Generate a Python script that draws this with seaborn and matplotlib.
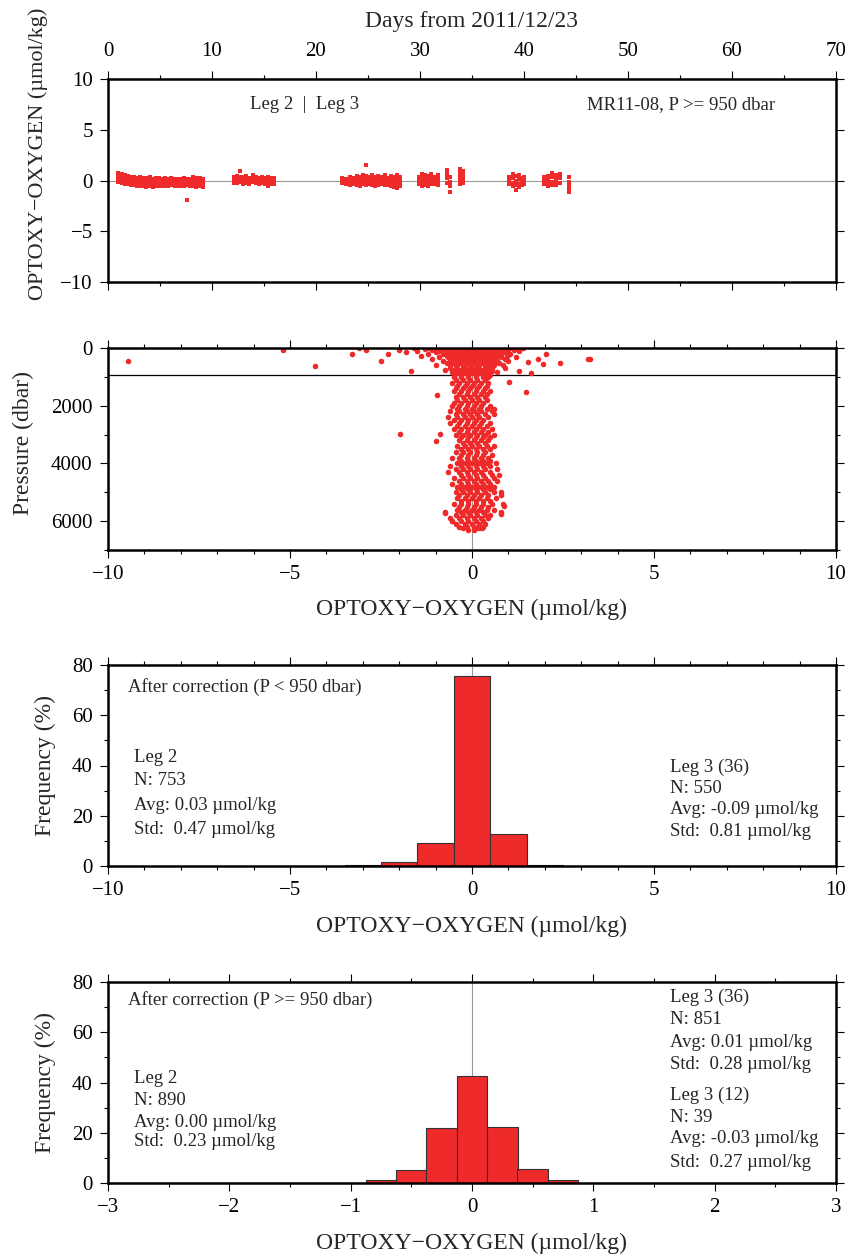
import numpy as np
import pandas as pd
import matplotlib
matplotlib.use("Agg")
import matplotlib.pyplot as plt
from matplotlib.ticker import MultipleLocator
import seaborn as sns

RED = "#ee2a2a"

# ---- panel 1: difference vs. days, P >= 950 dbar (one list of values per station)
stn_day = [1.0, 1.3, 1.6, 1.9, 2.2, 2.5, 2.8, 3.1, 3.4, 3.7, 4.0, 4.3, 4.6, 4.9,
           5.2, 5.5, 5.8, 6.1, 6.4, 6.7, 7.0, 7.3, 7.6, 7.9, 8.2, 8.5, 8.8, 9.1,
           12.1, 12.4, 12.7, 13.0, 13.3, 13.6, 13.9, 14.2, 14.5, 14.8, 15.1, 15.4, 15.7, 16.0,
           22.5, 22.9, 23.3, 23.6, 23.9, 24.2, 24.5, 24.8, 25.1, 25.4, 25.7, 26.0, 26.3,
           26.6, 26.9, 27.2, 27.5, 27.8, 28.1,
           29.9, 30.2, 30.5, 30.8, 31.1, 31.4, 31.7, 32.6, 32.9, 33.8, 34.1,
           38.6, 38.9, 39.2, 39.5, 39.8, 40.0,
           41.9, 42.3, 42.7, 43.1, 43.5, 44.3]
stn_diff = [
    [0.7, 0.5, 0.3, 0.1, -0.1], [0.6, 0.4, 0.2, 0.0, -0.2], [0.5, 0.3, 0.1, -0.1, -0.3],
    [0.4, 0.2, 0.0, -0.2, -0.3], [0.3, 0.1, -0.1, -0.3, -0.4], [0.35, 0.15, -0.05, -0.25, -0.45],
    [0.2, 0.0, -0.2, -0.35, -0.5], [0.3, 0.1, -0.1, -0.3, -0.5], [0.25, 0.05, -0.15, -0.35, -0.55],
    [0.2, 0.0, -0.2, -0.4, -0.6], [0.3, 0.1, -0.1, -0.3, -0.5], [0.15, -0.05, -0.25, -0.45, -0.6],
    [0.25, 0.05, -0.15, -0.35, -0.55], [0.2, 0.0, -0.2, -0.4, -0.5], [0.15, -0.05, -0.25, -0.4, -0.55],
    [0.2, 0.0, -0.2, -0.35, -0.5], [0.1, -0.05, -0.2, -0.4, -0.55], [0.2, 0.0, -0.15, -0.3, -0.45],
    [0.1, -0.1, -0.25, -0.4, -0.5], [0.15, -0.05, -0.2, -0.35, -0.5], [0.1, -0.1, -0.25, -0.4, -0.55],
    [0.2, 0.0, -0.2, -0.35, -0.5], [0.1, -0.1, -0.3, -0.45, -1.9], [0.15, -0.05, -0.25, -0.4, -0.55],
    [0.3, 0.05, -0.15, -0.35, -0.5], [0.2, 0.0, -0.2, -0.4, -0.6], [0.25, 0.05, -0.15, -0.35, -0.55],
    [0.1, -0.1, -0.3, -0.5, -0.65],
    [0.3, 0.1, -0.1, -0.2], [0.4, 0.2, 0.0, -0.2], [0.9, 0.3, 0.1, -0.1], [0.3, 0.1, -0.1, -0.3],
    [0.4, 0.2, 0.0, -0.2], [0.2, 0.0, -0.2, -0.35], [0.5, 0.3, 0.1, -0.1], [0.3, 0.1, -0.1, -0.25],
    [0.25, 0.05, -0.15, -0.3], [0.3, 0.1, -0.1, -0.2], [0.2, 0.0, -0.2, -0.35], [0.3, 0.1, -0.1, -0.5],
    [0.25, 0.05, -0.15, -0.3], [0.2, 0.0, -0.2, -0.3],
    [0.2, 0.0, -0.2], [0.1, -0.1, -0.3], [0.3, 0.0, -0.2, -0.4], [0.2, -0.1, -0.3],
    [0.4, 0.1, -0.2, -0.4], [0.3, 0.0, -0.3, -0.5], [0.5, 0.2, -0.1, -0.3], [1.5, 0.4, 0.1, -0.2, -0.4],
    [0.3, 0.0, -0.3], [0.5, 0.2, -0.1, -0.4], [0.3, 0.0, -0.3, -0.5], [0.4, 0.1, -0.2, -0.4],
    [0.3, 0.0, -0.3], [0.5, 0.2, -0.1, -0.4], [0.2, -0.1, -0.4], [0.4, 0.1, -0.2, -0.5],
    [0.3, 0.0, -0.3, -0.6], [0.5, 0.2, -0.1, -0.4, -0.7], [0.3, 0.0, -0.3, -0.5],
    [0.3, 0.0, -0.3], [0.6, 0.3, 0.0, -0.3, -0.5], [0.5, 0.2, -0.1, -0.4], [0.4, 0.1, -0.2, -0.5],
    [0.6, 0.3, 0.0, -0.3], [0.3, 0.0, -0.3], [0.5, 0.2, -0.1, -0.4], [1.0, 0.6, 0.2, -0.2],
    [0.3, -0.1, -0.5, -1.1], [1.1, 0.7, 0.3, 0.0, -0.3], [0.9, 0.5, 0.1, -0.2],
    [0.3, 0.0, -0.3], [0.6, 0.2, -0.2, -0.5], [0.4, 0.0, -0.4, -0.9], [0.5, 0.1, -0.3, -0.6],
    [0.2, -0.1, -0.4], [0.3, 0.0, -0.3],
    [0.3, 0.0, -0.3], [0.4, 0.1, -0.2, -0.5], [0.7, 0.3, -0.1, -0.4], [0.5, 0.2, -0.1, -0.4],
    [0.6, 0.2, -0.2], [0.3, -0.1, -0.5, -0.9, -1.1]]

# ---- panel 2: difference vs. pressure (values listed per pressure level)
lev_p = [0, 30, 60, 100, 150, 200, 260, 320, 380, 450, 520, 600, 680, 760, 840, 920,
         1000, 1100, 1200, 1300, 1400, 1500, 1600, 1700, 1800, 1900, 2000, 2100, 2200,
         2300, 2400, 2500, 2600, 2700, 2800, 2900, 3000, 3100, 3200, 3300, 3400, 3500,
         3600, 3700, 3800, 3900, 4000, 4100, 4200, 4300, 4400, 4500, 4600, 4700, 4800,
         4900, 5000, 5100, 5200, 5300, 5400, 5500, 5600, 5700, 5800, 5900, 6000, 6100,
         6200, 6250, 6300]
lev_diff = [
    [-1.6, -1.2, -0.9, -0.7, -0.5, -0.3, -0.1, 0.1, 0.3, 0.5, 0.7, 0.9, 1.1, 1.4],
    [-1.3, -0.95, -0.6, -0.4, -0.2, 0.0, 0.2, 0.4, 0.6, 0.8, 1.0, 1.25],
    [-2.0, -1.1, -0.8, -0.55, -0.35, -0.15, 0.05, 0.25, 0.45, 0.65, 0.85, 1.15],
    [-1.5, -0.9, -0.65, -0.45, -0.25, -0.05, 0.15, 0.35, 0.55, 0.75, 0.95, 1.3],
    [-1.8, -1.0, -0.7, -0.5, -0.3, -0.1, 0.1, 0.3, 0.5, 0.7, 0.9],
    [-1.2, -0.8, -0.6, -0.4, -0.2, 0.0, 0.2, 0.4, 0.6, 0.8, 1.05],
    [-1.4, -0.7, -0.5, -0.3, -0.1, 0.1, 0.3, 0.5, 0.7, 0.95],
    [-0.9, -0.65, -0.45, -0.25, -0.05, 0.15, 0.35, 0.55, 0.8, 1.2],
    [-1.1, -0.6, -0.4, -0.2, 0.0, 0.2, 0.4, 0.6, 0.9],
    [-0.8, -0.55, -0.35, -0.15, 0.05, 0.25, 0.45, 0.7, 1.0],
    [-0.7, -0.5, -0.3, -0.1, 0.1, 0.3, 0.5, 0.75],
    [-1.0, -0.6, -0.4, -0.2, 0.0, 0.2, 0.4, 0.6, 0.85],
    [-0.6, -0.45, -0.25, -0.05, 0.15, 0.35, 0.55, 0.9],
    [-0.75, -0.5, -0.3, -0.1, 0.1, 0.3, 0.5],
    [-0.55, -0.35, -0.15, 0.05, 0.25, 0.45, 0.7],
    [-0.5, -0.3, -0.1, 0.1, 0.3, 0.5],
    [-0.5, -0.3, -0.1, 0.1, 0.3, 0.45], [-0.45, -0.25, -0.05, 0.15, 0.35],
    [-0.55, -0.35, -0.15, 0.05, 0.25, 0.45], [-0.4, -0.2, 0.0, 0.2, 0.4],
    [-0.45, -0.25, -0.05, 0.15, 0.35], [-0.5, -0.3, -0.1, 0.1, 0.3, 0.5],
    [-0.35, -0.15, 0.05, 0.25, 0.42], [-0.45, -0.25, -0.05, 0.15, 0.35],
    [-0.4, -0.2, 0.0, 0.2, 0.4], [-0.5, -0.3, -0.1, 0.1, 0.3],
    [-0.55, -0.35, -0.15, 0.05, 0.25, 0.5], [-0.4, -0.2, 0.0, 0.2, 0.4, 0.6],
    [-0.6, -0.35, -0.15, 0.05, 0.25, 0.55], [-0.45, -0.25, -0.05, 0.15, 0.35, 0.6],
    [-0.65, -0.4, -0.2, 0.0, 0.2, 0.45], [-0.5, -0.3, -0.1, 0.1, 0.3],
    [-0.6, -0.35, -0.15, 0.05, 0.25, 0.5], [-0.4, -0.2, 0.0, 0.2, 0.4],
    [-0.5, -0.3, -0.1, 0.1, 0.3, 0.55], [-0.35, -0.15, 0.05, 0.25, 0.45],
    [-0.45, -0.25, -0.05, 0.15, 0.35, 0.6], [-0.3, -0.1, 0.1, 0.3, 0.5],
    [-0.35, -0.15, 0.05, 0.25, 0.45], [-0.25, -0.05, 0.15, 0.35],
    [-0.4, -0.2, 0.0, 0.2, 0.4, 0.6], [-0.3, -0.1, 0.1, 0.3, 0.5],
    [-0.45, -0.25, -0.05, 0.15, 0.35], [-0.3, -0.1, 0.1, 0.3, 0.55],
    [-0.55, -0.35, -0.15, 0.05, 0.25, 0.45], [-0.3, -0.1, 0.1, 0.3, 0.5],
    [-0.4, -0.2, 0.0, 0.2, 0.4, 0.65], [-0.6, -0.3, -0.1, 0.1, 0.3, 0.5],
    [-0.45, -0.25, -0.05, 0.15, 0.35, 0.7], [-0.65, -0.35, -0.15, 0.05, 0.25, 0.5],
    [-0.3, -0.1, 0.1, 0.3, 0.55, 0.75], [-0.5, -0.25, -0.05, 0.15, 0.35, 0.6],
    [-0.35, -0.15, 0.05, 0.25, 0.45, 0.7], [-0.55, -0.3, -0.1, 0.1, 0.3, 0.5],
    [-0.4, -0.2, 0.0, 0.2, 0.4, 0.6], [-0.3, -0.1, 0.1, 0.3, 0.5],
    [-0.45, -0.25, -0.05, 0.15, 0.35, 0.6, 0.8], [-0.35, -0.15, 0.05, 0.25, 0.45],
    [-0.4, -0.2, 0.0, 0.2, 0.4, 0.65], [-0.3, -0.1, 0.1, 0.3, 0.5],
    [-0.5, -0.3, -0.1, 0.1, 0.3, 0.55, 0.85], [-0.35, -0.15, 0.05, 0.25, 0.45],
    [-0.4, -0.2, 0.0, 0.2, 0.4, 0.6], [-0.75, -0.3, -0.1, 0.1, 0.3, 0.8],
    [-0.45, -0.25, -0.05, 0.15, 0.35, 0.5], [-0.6, -0.35, -0.15, 0.05, 0.25, 0.45],
    [-0.55, -0.3, -0.1, 0.1, 0.3], [-0.45, -0.2, 0.0, 0.2, 0.35],
    [-0.35, -0.15, 0.05, 0.2, 0.3], [-0.25, 0.1, 0.2, 0.28], [-0.1, 0.05]]
# extra samples in the dense upper layer (P < 950 dbar)
up_p = [15, 45, 80, 125, 175, 230, 290, 350, 415, 485, 560, 640, 720, 800, 880]
up_diff = [
    [-0.8, -0.6, -0.4, -0.2, 0.0, 0.2, 0.4, 0.6, 0.8],
    [-0.7, -0.5, -0.3, -0.1, 0.1, 0.3, 0.5, 0.7, 0.9],
    [-0.65, -0.45, -0.25, -0.05, 0.15, 0.35, 0.6, 0.8],
    [-0.6, -0.4, -0.2, 0.0, 0.2, 0.4, 0.6, 0.85],
    [-0.55, -0.35, -0.15, 0.05, 0.25, 0.45, 0.65],
    [-0.5, -0.3, -0.1, 0.1, 0.3, 0.5, 0.75],
    [-0.55, -0.35, -0.15, 0.05, 0.25, 0.45, 0.65],
    [-0.5, -0.3, -0.1, 0.1, 0.3, 0.5],
    [-0.45, -0.25, -0.05, 0.15, 0.35, 0.55],
    [-0.5, -0.3, -0.1, 0.1, 0.3, 0.5],
    [-0.4, -0.2, 0.0, 0.2, 0.4, 0.6],
    [-0.45, -0.25, -0.05, 0.15, 0.35, 0.5],
    [-0.4, -0.2, 0.0, 0.2, 0.4],
    [-0.45, -0.25, -0.05, 0.15, 0.35, 0.55],
    [-0.4, -0.2, 0.0, 0.2, 0.4]]
# isolated points
out_diff = [-9.45, -5.2, -4.3, -3.3, -3.1, -2.9, -2.5, -2.3, -1.97, -1.67, -0.95, -0.99,
            -0.89, 1.48, 1.63, 1.96, 2.04, 2.42, 3.18, 3.25, 1.8, 1.54, 1.28, 1.03, 0.79,
            0.88, 0.79, -0.75, -0.56]
out_p = [450, 80, 640, 220, 0, 80, 460, 195, 2980, 790, 1630, 3220, 2980, 1520, 850,
         540, 195, 505, 370, 390, 370, 480, 790, 1170, 5080, 5460, 5740, 5710, 6000]

# ---- panels 3/4: frequency histograms (%)
h1_center = [-3, -2, -1, 0, 1, 2]
h1_freq = [0.3, 1.6, 9.2, 75.7, 12.6, 0.4]
h2_center = [-0.75, -0.5, -0.25, 0.0, 0.25, 0.5, 0.75]
h2_freq = [1.0, 5.0, 22.0, 42.5, 22.2, 5.7, 1.2]

df_top = pd.DataFrame([(d, v) for d, vals in zip(stn_day, stn_diff) for v in vals],
                      columns=["day", "diff"])
mid_rows = [(v, p) for p, vals in zip(lev_p, lev_diff) for v in vals]
mid_rows += [(v, p) for p, vals in zip(up_p, up_diff) for v in vals]
mid_rows += list(zip(out_diff, out_p))
df_mid = pd.DataFrame(mid_rows, columns=["diff", "pres"])

sns.set_style("ticks")
plt.rcParams["font.family"] = ["Liberation Serif", "DejaVu Serif"]
plt.rcParams["axes.linewidth"] = 1.8

fig = plt.figure(figsize=(8.51, 12.56), dpi=100)
W = 851.0
H = 1256.0


def add_ax(top, bottom):
    return fig.add_axes([108 / W, 1 - bottom / H, 728 / W, (bottom - top) / H])


def style(ax):
    for s in ax.spines.values():
        s.set_visible(True)
        s.set_linewidth(1.8)
        s.set_color("black")
    ax.tick_params(which="both", direction="out", top=True, right=True,
                   width=0.8, colors="black", labelsize=15, pad=5)
    ax.tick_params(which="major", length=6)
    ax.tick_params(which="minor", length=3)


XLAB = "OPTOXY\u2212OXYGEN (\u00b5mol/kg)"
TXT = 13.5

# panel 1
ax1 = add_ax(79, 282)
ax1.axhline(0, color="#999999", lw=0.8, zorder=0)
sns.scatterplot(data=df_top, x="day", y="diff", ax=ax1, color=RED, s=8,
                linewidth=0, marker="s")
ax1.set_xlim(0, 70)
ax1.set_ylim(-10, 10)
ax1.xaxis.set_major_locator(MultipleLocator(10))
ax1.xaxis.set_minor_locator(MultipleLocator(5))
ax1.yaxis.set_major_locator(MultipleLocator(5))
style(ax1)
ax1.tick_params(axis="x", labeltop=True, labelbottom=False, pad=7)
ax1.xaxis.set_label_position("top")
ax1.set_xlabel("Days from 2011/12/23", fontsize=17, labelpad=11)
ax1.set_ylabel(XLAB, fontsize=16)
ax1.yaxis.set_label_coords(-0.082, 0.63)
ax1.text(0.195, 0.872, "Leg 2  |  Leg 3", transform=ax1.transAxes, fontsize=TXT, va="center")
ax1.text(0.658, 0.872, "MR11-08, P >= 950 dbar", transform=ax1.transAxes, fontsize=TXT,
         va="center")

# panel 2
ax2 = add_ax(348, 550)
ax2.axvline(0, color="#999999", lw=0.8, zorder=0)
ax2.axhline(950, color="black", lw=0.9, zorder=0)
sns.scatterplot(data=df_mid, x="diff", y="pres", ax=ax2, color=RED, s=16, linewidth=0)
ax2.set_xlim(-10, 10)
ax2.set_ylim(7000, 0)
ax2.xaxis.set_major_locator(MultipleLocator(5))
ax2.xaxis.set_minor_locator(MultipleLocator(1))
ax2.yaxis.set_major_locator(MultipleLocator(2000))
ax2.yaxis.set_minor_locator(MultipleLocator(1000))
style(ax2)
ax2.set_xlabel(XLAB, fontsize=17)
ax2.xaxis.set_label_coords(0.5, -0.243)
ax2.set_ylabel("Pressure (dbar)", fontsize=17)
ax2.yaxis.set_label_coords(-0.101, 0.53)


def hist_panel(top, bottom, centers, freqs, width, xlim, major, minor):
    ax = add_ax(top, bottom)
    ax.axvline(0, color="#999999", lw=0.8, zorder=0)
    hd = pd.DataFrame({"center": centers, "freq": freqs})
    sns.histplot(data=hd, x="center", weights="freq", binwidth=width,
                 binrange=(min(centers) - width / 2, max(centers) + width / 2),
                 ax=ax, color=RED, alpha=1, edgecolor="#333333", linewidth=0.8)
    ax.set_xlim(*xlim)
    ax.set_ylim(0, 80)
    ax.xaxis.set_major_locator(MultipleLocator(major))
    ax.xaxis.set_minor_locator(MultipleLocator(minor))
    ax.yaxis.set_major_locator(MultipleLocator(20))
    ax.yaxis.set_minor_locator(MultipleLocator(10))
    style(ax)
    ax.set_xlabel(XLAB, fontsize=17)
    ax.xaxis.set_label_coords(0.5, -0.25)
    ax.set_ylabel("Frequency (%)", fontsize=17)
    ax.yaxis.set_label_coords(-0.072, 0.5)
    return ax


def block(ax, x, ys, lines):
    for y, s in zip(ys, lines):
        ax.text(x, y, s, transform=ax.transAxes, fontsize=TXT, va="center")


ax3 = hist_panel(665, 866, h1_center, h1_freq, 1.0, (-10, 10), 5, 1)
ax3.text(0.0275, 0.89, "After correction (P < 950 dbar)", transform=ax3.transAxes,
         fontsize=TXT, va="center")
block(ax3, 0.0357, [0.542, 0.423, 0.303, 0.184],
      ["Leg 2", "N: 753", "Avg: 0.03 \u00b5mol/kg", "Std:  0.47 \u00b5mol/kg"])
block(ax3, 0.772, [0.493, 0.388, 0.279, 0.174],
      ["Leg 3 (36)", "N: 550", "Avg: -0.09 \u00b5mol/kg", "Std:  0.81 \u00b5mol/kg"])

ax4 = hist_panel(982, 1183, h2_center, h2_freq, 0.25, (-3, 3), 1, 0.5)
ax4.text(0.0275, 0.91, "After correction (P >= 950 dbar)", transform=ax4.transAxes,
         fontsize=TXT, va="center")
block(ax4, 0.0357, [0.522, 0.408, 0.303, 0.204],
      ["Leg 2", "N: 890", "Avg: 0.00 \u00b5mol/kg", "Std:  0.23 \u00b5mol/kg"])
block(ax4, 0.772, [0.925, 0.811, 0.697, 0.592],
      ["Leg 3 (36)", "N: 851", "Avg: 0.01 \u00b5mol/kg", "Std:  0.28 \u00b5mol/kg"])
block(ax4, 0.772, [0.438, 0.328, 0.219, 0.104],
      ["Leg 3 (12)", "N: 39", "Avg: -0.03 \u00b5mol/kg", "Std:  0.27 \u00b5mol/kg"])

fig.savefig("out.png", dpi=100)
